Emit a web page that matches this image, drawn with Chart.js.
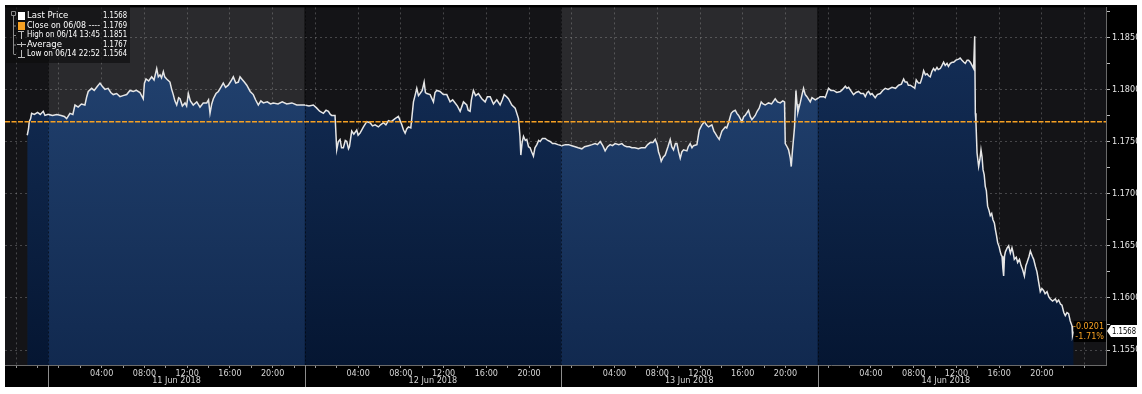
<!DOCTYPE html>
<html lang="en">
<head>
<meta charset="utf-8">
<title>EURUSD 11-14 Jun 2018</title>
<script src="https://cdn.jsdelivr.net/npm/chart.js"></script>
<style>
  html, body { margin: 0; padding: 0; background: #fff; }
  canvas { display: block; }
</style>
</head>
<body>
<canvas id="priceChart" width="1142" height="394"></canvas>
<script>
// hours counted from 11 Jun 2018 00:00
const hours = [
  -2.97, -2.85, -2.78, -2.65, -2.56, -2.3, -2.0, -1.75, -1.47, -1.31,
  -1.0, -0.6, -0.2, 0.2, 0.5, 0.72, 1.03, 1.3, 1.5, 1.8,
  2.1, 2.43, 2.6, 2.74, 3.06, 3.3, 3.6, 3.84, 4.05, 4.31,
  4.6, 4.85, 5.08, 5.4, 5.71, 6.0, 6.34, 6.65, 6.96, 7.25,
  7.58, 7.89, 8.0, 8.15, 8.4, 8.68, 8.9, 9.15, 9.3, 9.46,
  9.6, 9.77, 9.9, 10.08, 10.39, 10.55, 10.7, 10.85, 11.02, 11.2,
  11.33, 11.55, 11.8, 11.95, 12.11, 12.3, 12.57, 12.9, 13.2, 13.5,
  13.83, 14.0, 14.14, 14.3, 14.45, 14.7, 14.92, 15.15, 15.38, 15.6,
  15.85, 16.1, 16.32, 16.55, 16.79, 16.95, 17.11, 17.35, 17.58, 17.9,
  18.19, 18.4, 18.66, 18.9, 19.13, 19.5, 19.8, 20.07, 20.5, 20.9,
  21.32, 21.8, 22.26, 22.57, 23.0, 23.4, 23.81, 24.13, 24.4, 24.75,
  25.0, 25.22, 25.4, 25.53, 25.84, 26.0, 26.15, 26.31, 26.45, 26.62,
  26.8, 26.94, 27.1, 27.19, 27.4, 27.6, 27.87, 28.0, 28.18, 28.5,
  28.81, 29.12, 29.35, 29.59, 29.9, 30.1, 30.37, 30.6, 30.84, 31.1,
  31.46, 31.77, 32.09, 32.25, 32.4, 32.55, 32.71, 32.93, 33.18, 33.35,
  33.49, 33.65, 33.8, 34.0, 34.18, 34.3, 34.43, 34.74, 35.05, 35.2,
  35.36, 35.67, 35.98, 36.3, 36.61, 36.85, 37.08, 37.3, 37.55, 37.86,
  38.17, 38.3, 38.48, 38.6, 38.79, 39.0, 39.26, 39.58, 39.89, 40.1,
  40.36, 40.67, 40.98, 41.29, 41.5, 41.67, 41.9, 42.07, 42.39, 42.7,
  43.01, 43.15, 43.23, 43.35, 43.48, 43.65, 43.79, 43.95, 44.1, 44.25,
  44.41, 44.55, 44.73, 44.9, 45.04, 45.25, 45.51, 45.75, 45.97, 46.2,
  46.44, 46.7, 47.07, 47.4, 47.69, 48.0, 48.31, 48.6, 48.94, 49.2,
  49.56, 49.9, 50.19, 50.4, 50.66, 50.9, 51.12, 51.35, 51.59, 51.8,
  52.06, 52.4, 52.69, 52.9, 53.15, 53.4, 53.62, 53.9, 54.24, 54.5,
  54.87, 55.1, 55.34, 55.6, 55.81, 56.0, 56.12, 56.25, 56.37, 56.55,
  56.74, 57.0, 57.21, 57.35, 57.52, 57.7, 57.84, 58.0, 58.15, 58.3,
  58.46, 58.77, 58.9, 59.08, 59.25, 59.39, 59.71, 59.93, 60.18, 60.42,
  60.6, 60.8, 61.11, 61.3, 61.42, 61.6, 61.8, 62.05, 62.36, 62.5,
  62.67, 62.92, 63.1, 63.3, 63.45, 63.61, 63.92, 64.1, 64.23, 64.54,
  64.7, 64.86, 65.17, 65.35, 65.54, 65.73, 65.9, 66.1, 66.41, 66.7,
  67.04, 67.25, 67.51, 67.75, 67.91, 67.98, 68.15, 68.29, 68.45, 68.54,
  68.66, 68.85, 68.98, 69.08, 69.16, 69.38, 69.55, 69.69, 69.85, 70.01,
  70.32, 70.48, 70.79, 70.94, 71.25, 71.57, 71.72, 72.03, 72.25, 72.5,
  72.8, 73.13, 73.35, 73.6, 73.75, 73.91, 74.1, 74.37, 74.6, 74.84,
  75.05, 75.31, 75.47, 75.65, 75.78, 75.95, 76.1, 76.4, 76.6, 76.87,
  77.1, 77.34, 77.6, 77.97, 78.3, 78.59, 78.85, 79.06, 79.2, 79.37,
  79.5, 79.68, 79.99, 80.1, 80.24, 80.45, 80.62, 80.8, 80.93, 81.1,
  81.25, 81.4, 81.55, 81.7, 81.86, 82.0, 82.18, 82.3, 82.49, 82.65,
  82.8, 82.95, 83.12, 83.25, 83.43, 83.6, 83.74, 83.95, 84.21, 84.35,
  84.52, 84.7, 84.83, 85.0, 85.14, 85.3, 85.46, 85.61, 85.71, 85.77,
  85.83, 85.93, 86.08, 86.2, 86.3, 86.4, 86.49, 86.6, 86.7, 86.8,
  86.92, 87.05, 87.17, 87.3, 87.42, 87.55, 87.64, 87.75, 87.86, 88.0,
  88.11, 88.2, 88.27, 88.35, 88.42, 88.5, 88.58, 88.75, 88.89, 89.05,
  89.2, 89.3, 89.42, 89.6, 89.73, 89.9, 90.05, 90.2, 90.36, 90.5,
  90.61, 90.8, 90.92, 91.1, 91.23, 91.4, 91.54, 91.7, 91.85, 92.0,
  92.17, 92.3, 92.48, 92.65, 92.79, 93.0, 93.26, 93.4, 93.57, 93.75,
  93.88, 94.05, 94.19, 94.35, 94.5, 94.65, 94.82, 94.87, 94.97
];

const prices = [
  1.1756, 1.1762, 1.1769, 1.1772, 1.1777, 1.1776, 1.1778, 1.1776, 1.1779, 1.1775,
  1.1776, 1.1775, 1.1776, 1.1775, 1.1774, 1.1772, 1.1777, 1.1776, 1.1785, 1.1783,
  1.1786, 1.1785, 1.1793, 1.1798, 1.1801, 1.1799, 1.1803, 1.1806, 1.1803, 1.1800,
  1.1801, 1.1797, 1.1795, 1.1796, 1.1793, 1.1794, 1.1795, 1.1799, 1.1798, 1.1799,
  1.1797, 1.1791, 1.1806, 1.1810, 1.1808, 1.1812, 1.1809, 1.1820, 1.1812, 1.1814,
  1.1811, 1.1817, 1.1812, 1.1810, 1.1807, 1.1800, 1.1795, 1.1789, 1.1785, 1.1792,
  1.1791, 1.1784, 1.1787, 1.1784, 1.1796, 1.1789, 1.1785, 1.1788, 1.1783, 1.1787,
  1.1787, 1.1790, 1.1777, 1.1786, 1.1791, 1.1796, 1.1798, 1.1802, 1.1806, 1.1802,
  1.1804, 1.1808, 1.1812, 1.1806, 1.1807, 1.1812, 1.1810, 1.1807, 1.1804, 1.1798,
  1.1795, 1.1790, 1.1785, 1.1789, 1.1787, 1.1788, 1.1786, 1.1787, 1.1786, 1.1788,
  1.1786, 1.1787, 1.1785, 1.1785, 1.1785, 1.1784, 1.1785, 1.1782, 1.1779, 1.1777,
  1.1780, 1.1779, 1.1776, 1.1775, 1.1775, 1.1742, 1.1750, 1.1752, 1.1744, 1.1744,
  1.1751, 1.1750, 1.1743, 1.1745, 1.1760, 1.1757, 1.1761, 1.1756, 1.1758, 1.1764,
  1.1769, 1.1768, 1.1765, 1.1766, 1.1764, 1.1766, 1.1768, 1.1766, 1.1770, 1.1769,
  1.1772, 1.1774, 1.1766, 1.1761, 1.1758, 1.1762, 1.1764, 1.1763, 1.1788, 1.1795,
  1.1801, 1.1794, 1.1796, 1.1799, 1.1807, 1.1797, 1.1796, 1.1795, 1.1788, 1.1797,
  1.1799, 1.1798, 1.1795, 1.1795, 1.1788, 1.1790, 1.1787, 1.1784, 1.1779, 1.1788,
  1.1785, 1.1780, 1.1779, 1.1790, 1.1799, 1.1794, 1.1796, 1.1791, 1.1788, 1.1793,
  1.1793, 1.1786, 1.1790, 1.1785, 1.1790, 1.1795, 1.1793, 1.1791, 1.1785, 1.1782,
  1.1772, 1.1755, 1.1737, 1.1749, 1.1755, 1.1751, 1.1752, 1.1745, 1.1744, 1.1740,
  1.1736, 1.1744, 1.1747, 1.1751, 1.1750, 1.1753, 1.1753, 1.1751, 1.1750, 1.1748,
  1.1748, 1.1747, 1.1746, 1.1747, 1.1747, 1.1746, 1.1745, 1.1744, 1.1743, 1.1745,
  1.1746, 1.1747, 1.1748, 1.1747, 1.1750, 1.1746, 1.1741, 1.1745, 1.1747, 1.1746,
  1.1748, 1.1747, 1.1748, 1.1746, 1.1745, 1.1745, 1.1744, 1.1744, 1.1743, 1.1744,
  1.1744, 1.1747, 1.1749, 1.1749, 1.1752, 1.1747, 1.1740, 1.1736, 1.1731, 1.1735,
  1.1737, 1.1745, 1.1752, 1.1745, 1.1742, 1.1748, 1.1748, 1.1740, 1.1734, 1.1740,
  1.1742, 1.1741, 1.1745, 1.1748, 1.1744, 1.1746, 1.1747, 1.1761, 1.1766, 1.1769,
  1.1766, 1.1764, 1.1766, 1.1760, 1.1758, 1.1755, 1.1752, 1.1760, 1.1764, 1.1763,
  1.1768, 1.1777, 1.1779, 1.1780, 1.1777, 1.1775, 1.1769, 1.1774, 1.1775, 1.1780,
  1.1774, 1.1771, 1.1775, 1.1779, 1.1782, 1.1788, 1.1786, 1.1785, 1.1787, 1.1786,
  1.1791, 1.1788, 1.1787, 1.1789, 1.1788, 1.1748, 1.1745, 1.1742, 1.1734, 1.1726,
  1.1742, 1.1764, 1.1799, 1.1786, 1.1778, 1.1787, 1.1795, 1.1801, 1.1795, 1.1793,
  1.1788, 1.1792, 1.1790, 1.1791, 1.1793, 1.1793, 1.1792, 1.1801, 1.1799, 1.1799,
  1.1797, 1.1798, 1.1800, 1.1803, 1.1801, 1.1802, 1.1799, 1.1795, 1.1797, 1.1798,
  1.1796, 1.1796, 1.1793, 1.1797, 1.1798, 1.1795, 1.1796, 1.1792, 1.1795, 1.1796,
  1.1799, 1.1801, 1.1800, 1.1802, 1.1801, 1.1804, 1.1805, 1.1810, 1.1807, 1.1807,
  1.1804, 1.1804, 1.1802, 1.1801, 1.1809, 1.1806, 1.1806, 1.1812, 1.1818, 1.1814,
  1.1815, 1.1813, 1.1812, 1.1817, 1.1820, 1.1818, 1.1821, 1.1819, 1.1820, 1.1823,
  1.1826, 1.1823, 1.1825, 1.1822, 1.1825, 1.1826, 1.1826, 1.1828, 1.1829, 1.1830,
  1.1828, 1.1826, 1.1825, 1.1828, 1.1828, 1.1826, 1.1823, 1.1820, 1.1851, 1.1777,
  1.1768, 1.1739, 1.1726, 1.1733, 1.1742, 1.1735, 1.1723, 1.1718, 1.1707, 1.1703,
  1.1688, 1.1684, 1.1679, 1.1681, 1.1675, 1.1672, 1.1666, 1.1660, 1.1653, 1.1649,
  1.1644, 1.1641, 1.1640, 1.1628, 1.1621, 1.1640, 1.1644, 1.1648, 1.1650, 1.1643,
  1.1648, 1.1644, 1.1637, 1.1639, 1.1634, 1.1637, 1.1631, 1.1627, 1.1621, 1.1631,
  1.1634, 1.1640, 1.1645, 1.1640, 1.1637, 1.1630, 1.1625, 1.1615, 1.1606, 1.1609,
  1.1607, 1.1604, 1.1606, 1.1601, 1.1599, 1.1597, 1.1599, 1.1596, 1.1598, 1.1594,
  1.1593, 1.1586, 1.1583, 1.1586, 1.1585, 1.1578, 1.1573, 1.1564, 1.1568
];

const closePrice = 1.1769;
const sessionBreaks = [-1, 23, 47, 71];          // day separators, in hours
const dayCenters = [11, 35, 59, 83];
const dayLabels = ['11 Jun 2018', '12 Jun 2018', '13 Jun 2018', '14 Jun 2018'];
const yTicks = [1.1550, 1.1575, 1.1600, 1.1625, 1.1650, 1.1675, 1.1700,
                1.1725, 1.1750, 1.1775, 1.1800, 1.1825, 1.1850, 1.1875];
const legendLabels = ['Last Price', 'Close on 06/08 ----', 'High on 06/14 13:45', 'Average', 'Low on 06/14 22:52'];
const legendValues = ['1.1568', '1.1769', '1.1851', '1.1767', '1.1564'];

const xTicks = [];
for (let h = -4; h <= 96; h += 2) xTicks.push(h);

const FONT = "'Liberation Sans Narrow', 'DejaVu Sans Condensed', 'Arial Narrow', 'Liberation Sans', sans-serif";
const X_MIN = -5.05, X_MAX = 98.0, Y_MIN = 1.15357, Y_MAX = 1.18786;
const FRAME = { left: 5, top: 5, right: 1137, bottom: 387 };
const ORANGE = '#f5a023';

const points = hours.map((h, i) => ({ x: h, y: prices[i] }));
const isMajor = v => Math.abs(v * 200 - Math.round(v * 200)) < 1e-6;

// area fill: navy gradient, a bit lighter on alternate days
let fillCache = null;
function areaFill(chart) {
  const area = chart.chartArea;
  const xs = chart.scales.x;
  if (!area || !xs) return '#10264a';
  const key = [area.left, area.right, area.top, area.bottom].join(',');
  if (fillCache && fillCache.key === key) return fillCache.pattern;
  const off = document.createElement('canvas');
  off.width = chart.canvas.width;
  off.height = chart.canvas.height;
  const o = off.getContext('2d');
  const dark = o.createLinearGradient(0, area.top, 0, area.bottom);
  dark.addColorStop(0, '#15305a');
  dark.addColorStop(1, '#051632');
  o.fillStyle = dark;
  o.fillRect(area.left, area.top, area.width, area.height);
  const light = o.createLinearGradient(0, area.top, 0, area.bottom);
  light.addColorStop(0, '#244574');
  light.addColorStop(1, '#11294f');
  o.fillStyle = light;
  [[sessionBreaks[0], sessionBreaks[1]], [sessionBreaks[2], sessionBreaks[3]]].forEach(([a, b]) => {
    const x1 = xs.getPixelForValue(a), x2 = xs.getPixelForValue(b);
    o.fillRect(x1, area.top, x2 - x1, area.height);
  });
  const pattern = chart.ctx.createPattern(off, 'no-repeat');
  fillCache = { key, pattern };
  return pattern;
}

const backdrop = {
  id: 'backdrop',
  beforeDraw(chart) {
    const { ctx, chartArea: a, scales: { x } } = chart;
    ctx.save();
    ctx.fillStyle = '#ffffff';
    ctx.fillRect(0, 0, chart.width, chart.height);
    ctx.fillStyle = '#000000';
    ctx.fillRect(FRAME.left, FRAME.top, FRAME.right - FRAME.left, FRAME.bottom - FRAME.top);
    const bounds = [X_MIN, ...sessionBreaks, X_MAX];
    for (let i = 0; i < bounds.length - 1; i++) {
      const x1 = x.getPixelForValue(bounds[i]), x2 = x.getPixelForValue(bounds[i + 1]);
      ctx.fillStyle = i % 2 === 1 ? '#2a2a2d' : '#141417';
      ctx.fillRect(x1, a.top, x2 - x1, a.bottom - a.top);
    }
    ctx.restore();
  },
  afterDraw(chart) {
    const { ctx, chartArea: a, scales: { x, y } } = chart;
    ctx.save();
    // day separators
    sessionBreaks.forEach(h => {
      const px = Math.round(x.getPixelForValue(h)) + 0.5;
      ctx.strokeStyle = 'rgba(0,0,0,0.55)';
      ctx.setLineDash([2, 2]);
      ctx.beginPath(); ctx.moveTo(px, a.top); ctx.lineTo(px, a.bottom); ctx.stroke();
      ctx.setLineDash([]);
      ctx.strokeStyle = '#8c8c8c';
      ctx.beginPath(); ctx.moveTo(px, a.bottom); ctx.lineTo(px, FRAME.bottom); ctx.stroke();
    });
    // date labels
    ctx.font = '9px ' + FONT;
    ctx.fillStyle = '#d6d6d6';
    ctx.textAlign = 'center';
    ctx.textBaseline = 'middle';
    dayLabels.forEach((t, i) => ctx.fillText(t, x.getPixelForValue(dayCenters[i]), 381));

    // last price tag + change
    const last = prices[prices.length - 1];
    const ly = Math.round(y.getPixelForValue(last));
    const change = last - closePrice;
    const pct = change / closePrice * 100;
    const endX = x.getPixelForValue(hours[hours.length - 1]);
    ctx.fillStyle = '#000';
    ctx.fillRect(endX, ly - 10, a.right - endX, 21);
    ctx.fillStyle = ORANGE;
    ctx.textAlign = 'right';
    ctx.fillText((change < 0 ? '-' : '+') + Math.abs(change).toFixed(4), a.right - 2, ly - 4, 31);
    ctx.fillText((pct < 0 ? '-' : '+') + Math.abs(pct).toFixed(2) + '%', a.right - 2, ly + 6, 31);

    ctx.fillStyle = '#ffffff';
    ctx.beginPath();
    ctx.moveTo(a.right + 1, ly);
    ctx.lineTo(a.right + 5, ly - 6);
    ctx.lineTo(FRAME.right, ly - 6);
    ctx.lineTo(FRAME.right, ly + 6);
    ctx.lineTo(a.right + 5, ly + 6);
    ctx.closePath();
    ctx.fill();
    ctx.fillStyle = '#000';
    ctx.textAlign = 'left';
    ctx.fillText(last.toFixed(4), a.right + 6, ly + 0.5, FRAME.right - a.right - 7);

    // legend box
    ctx.fillStyle = 'rgba(12,12,12,0.6)';
    ctx.fillRect(6, 5, 124, 58);
    const rows = [16, 25.5, 35, 44.5, 54];
    ctx.strokeStyle = '#8a8a8a';
    ctx.lineWidth = 1;
    ctx.beginPath();
    ctx.rect(11.5, 11.5, 4, 4);
    ctx.moveTo(13.5, 16); ctx.lineTo(13.5, 54);
    rows.slice(1).forEach(r => { ctx.moveTo(13.5, r + 0.5); ctx.lineTo(16, r + 0.5); });
    ctx.stroke();
    ctx.fillStyle = '#ffffff';
    ctx.fillRect(18, 12, 7, 8);
    ctx.fillStyle = ORANGE;
    ctx.fillRect(18, 22, 7, 8);
    ctx.strokeStyle = '#bbbbbb';
    ctx.beginPath();
    ctx.moveTo(18, 31.5); ctx.lineTo(24, 31.5); ctx.moveTo(21.5, 31.5); ctx.lineTo(21.5, 39);
    ctx.moveTo(17, 44.5); ctx.lineTo(26, 44.5); ctx.moveTo(21.5, 42); ctx.lineTo(21.5, 47);
    ctx.moveTo(21.5, 50); ctx.lineTo(21.5, 57.5); ctx.moveTo(18, 57.5); ctx.lineTo(25, 57.5);
    ctx.stroke();
    ctx.font = '9.5px ' + FONT;
    ctx.fillStyle = '#ffffff';
    ctx.textBaseline = 'middle';
    legendLabels.forEach((t, i) => {
      ctx.textAlign = 'left';
      ctx.fillText(t, 27, rows[i], 73);
      ctx.textAlign = 'right';
      ctx.fillText(legendValues[i], 127, rows[i], 24);
    });
    ctx.restore();
  }
};

const ctx = document.getElementById('priceChart').getContext('2d');
new Chart(ctx, {
  type: 'line',
  data: {
    datasets: [
      {
        label: 'Last Price',
        data: points,
        borderColor: '#e6e6e6',
        borderWidth: 1.5,
        pointRadius: 0,
        tension: 0,
        fill: 'start',
        backgroundColor: c => areaFill(c.chart),
        order: 1
      },
      {
        label: 'Close on 06/08',
        data: [{ x: X_MIN, y: closePrice }, { x: X_MAX, y: closePrice }],
        borderColor: ORANGE,
        borderWidth: 1.6,
        borderDash: [5, 1.5],
        pointRadius: 0,
        fill: false,
        order: 0
      }
    ]
  },
  options: {
    responsive: false,
    animation: false,
    devicePixelRatio: 1,
    events: [],
    layout: { padding: { left: 5, top: 5, right: 5, bottom: 7 } },
    plugins: { legend: { display: false }, tooltip: { enabled: false } },
    scales: {
      x: {
        type: 'linear',
        min: X_MIN,
        max: X_MAX,
        z: 1,
        afterBuildTicks: s => { s.ticks = xTicks.map(v => ({ value: v })); },
        afterFit: s => { s.height = 22; },
        ticks: {
          autoSkip: false,
          maxRotation: 0,
          padding: 0,
          color: '#d6d6d6',
          font: { family: FONT, size: 9 },
          callback: v => {
            const hh = ((v % 24) + 24) % 24;
            return (v > 0 && v % 4 === 0 && hh !== 0) ? String(hh).padStart(2, '0') + ':00' : '';
          }
        },
        grid: {
          color: c => (c.tick && c.tick.value % 4 === 0) ? 'rgba(190,190,190,0.3)' : 'rgba(0,0,0,0)',
          tickColor: '#9a9a9a',
          tickLength: 3
        },
        border: { color: '#6a6a6a', dash: [2, 3] }
      },
      y: {
        position: 'right',
        min: Y_MIN,
        max: Y_MAX,
        z: 1,
        afterBuildTicks: s => { s.ticks = yTicks.map(v => ({ value: v })); },
        afterFit: s => { s.width = 31; },
        ticks: {
          autoSkip: false,
          padding: 2,
          color: '#e6e6e6',
          font: { family: FONT, size: 9 },
          callback: v => isMajor(v) ? v.toFixed(4) : ''
        },
        grid: {
          color: c => (c.tick && isMajor(c.tick.value)) ? 'rgba(190,190,190,0.3)' : 'rgba(0,0,0,0)',
          tickColor: '#bdbdbd',
          tickLength: 4
        },
        border: { color: '#6a6a6a', dash: [2, 3] }
      }
    }
  },
  plugins: [backdrop]
});
</script>
</body>
</html>
